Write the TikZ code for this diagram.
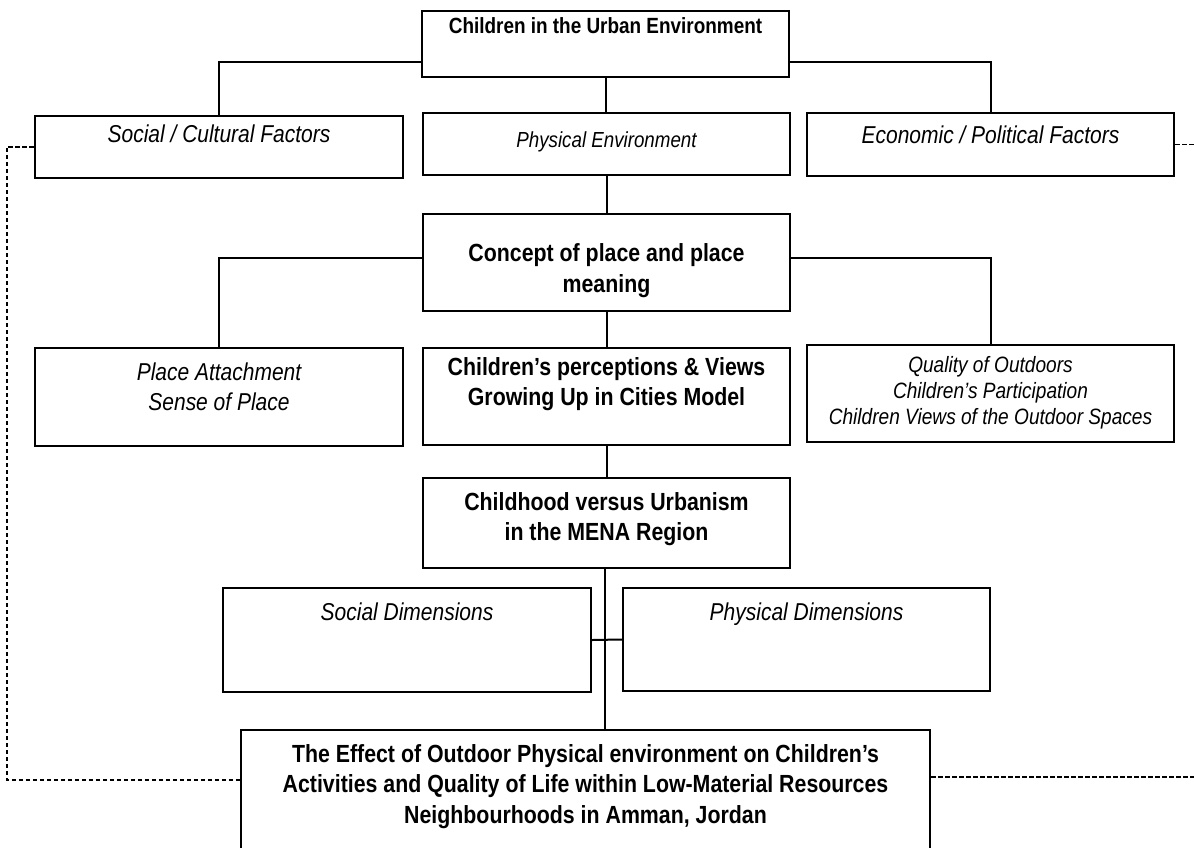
\documentclass[tikz,border=0pt]{standalone}
\usepackage{fontspec}
\setmainfont{Liberation Sans}[FakeStretch=0.86]
\usetikzlibrary{positioning}
\usetikzlibrary{calc}

\tikzset{
  box/.style={draw,line width=1.2pt,inner sep=0pt},
  lbl/.style={inner sep=0pt,align=center,anchor=north},
  headtxt/.style={font=\bfseries\fontsize{12.4}{15}\selectfont},
  factxt/.style={font=\itshape\fontsize{12.2}{15}\selectfont},
  conn/.style={line width=1pt},
  dashln/.style={line width=0.7pt,dash pattern=on 2.2pt off 1.3pt}
}

\begin{document}
\begin{tikzpicture}[x=0.5pt,y=-0.5pt]
\clip (0,0) rectangle (1194,847);
% first level
\node[box,minimum width=183.5pt,minimum height=33pt,
  label={[lbl,yshift=-3.5pt,font=\bfseries\fontsize{11}{14}\selectfont]north:Children in the Urban Environment}] (urban) at (605.5,44) {};
\node[box,minimum width=184pt,minimum height=31pt,
  label={[lbl,factxt,yshift=-5pt]north:Social / Cultural Factors}] (soc) at (219,147) {};
\node[box,minimum width=183.5pt,minimum height=31pt,
  label={[lbl,yshift=-9.5pt,font=\itshape\fontsize{10.9}{13}\selectfont]north:Physical Environment}] (physenv) at (606.5,144) {};
\node[box,minimum width=183.5pt,minimum height=31.5pt,
  label={[lbl,factxt,yshift=-7pt]north:Economic / Political Factors}] (econ) at (990.5,144.5) {};
% second level
\node[box,minimum width=183.5pt,minimum height=48.5pt,
  label={[lbl,headtxt,yshift=-15pt,font=\bfseries\fontsize{12.4}{15.5}\selectfont]north:{Concept of place and place\\meaning}}] (concept) at (606.5,262.5) {};
\node[box,minimum width=184pt,minimum height=49pt,
  label={[lbl,factxt,yshift=-8pt]north:{Place Attachment\\Sense of Place}}] (place) at (219,397) {};
\node[box,minimum width=183.5pt,minimum height=48.5pt,
  label={[lbl,headtxt,yshift=-5pt]north:{Children’s perceptions \& Views\\Growing Up in Cities Model}}] (percep) at (606.5,396.5) {};
\node[box,minimum width=183.5pt,minimum height=48.5pt,
  label={[lbl,yshift=-6pt,font=\itshape\fontsize{11.1}{13}\selectfont]north:{Quality of Outdoors\\Children's Participation\\Children Views of the Outdoor Spaces}}] (qual) at (990.5,393.5) {};
% third level
\node[box,minimum width=183.5pt,minimum height=45pt,
  label={[lbl,headtxt,yshift=-7.5pt]north:{Childhood versus Urbanism\\in the MENA Region}}] (child) at (606.5,523) {};
\node[box,minimum width=184pt,minimum height=52pt,
  label={[lbl,factxt,yshift=-8pt]north:Social Dimensions}] (socdim) at (407,640) {};
\node[box,minimum width=183.5pt,minimum height=51.5pt,
  label={[lbl,factxt,yshift=-8pt]north:Physical Dimensions}] (physdim) at (806.5,639.5) {};
\node[box,minimum width=344.5pt,minimum height=85pt,
  label={[lbl,headtxt,yshift=-7.5pt,font=\bfseries\fontsize{12.4}{15.25}\selectfont]north:{The Effect of Outdoor Physical environment on Children’s\\Activities and Quality of Life within Low-Material Resources\\Neighbourhoods in Amman, Jordan}}] (effect) at (585.5,815) {};
% connectors
\draw[conn] (urban.south west) ++(0,-16) -| (soc.north);
\draw[conn] (urban.south east) ++(0,-16) -| (econ.north);
\draw[conn] (urban.south) -- (urban.south |- physenv.north);
\draw[conn] (physenv.south) -- (concept.north);
\draw[conn] (concept.west) ++(0,-5) -| (place.north);
\draw[conn] (concept.east) ++(0,-5) -| (qual.north);
\draw[conn] (concept.south) -- (percep.north);
\draw[conn] (percep.south) -- (child.north);
\draw[conn] (child.south) ++(-2,0) -- ($(child.south |- effect.north)+(-2,0)$);
\draw[conn] (socdim.east) -- (physdim.west);
% dashed links
\draw[dashln] (soc.west) -- ++(-27,0) |- ($(effect.north west)+(0,51)$);
\draw[dashln] ($(effect.north east)+(0,48)$) -- ++(300,0);
\draw[dashln] (econ.east) -- ++(40,0);
\end{tikzpicture}
\end{document}
